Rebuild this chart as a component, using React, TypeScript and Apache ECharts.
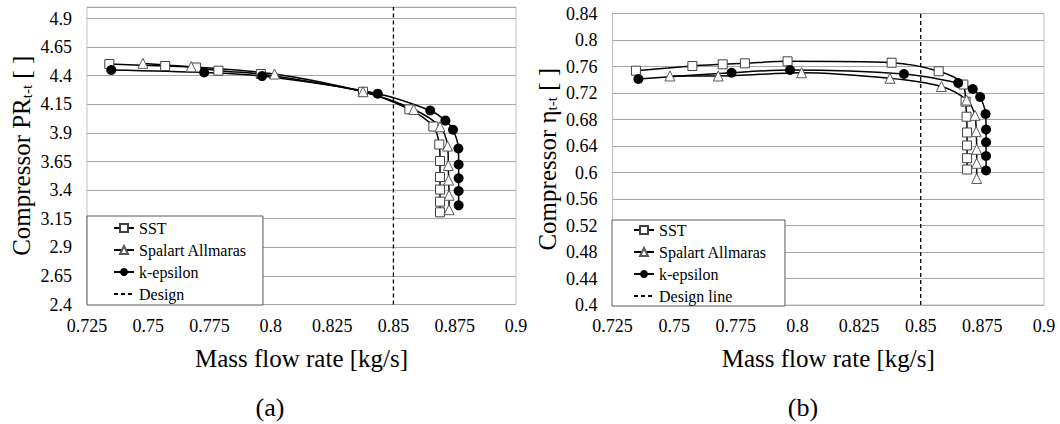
import React, { useEffect, useRef } from 'react';
import * as echarts from 'echarts';

const FONT = 'Liberation Serif';

// Axes
const X_MIN = 0.725;
const X_MAX = 0.9;
const X_STEP = 0.025;
const PR_MIN = 2.4;
const PR_MAX = 5.0;
const PR_STEP = 0.25;
const ETA_MIN = 0.4;
const ETA_MAX = 0.84;
const ETA_STEP = 0.04;
const DESIGN_FLOW = 0.85;

const LEGEND_A = ['SST', 'Spalart Allmaras', 'k-epsilon', 'Design'];
const LEGEND_B = ['SST', 'Spalart Allmaras', 'k-epsilon', 'Design line'];

// (a) Compressor total-to-total pressure ratio
const sstFlowA = [0.7341, 0.7569, 0.7695, 0.7786, 0.7959, 0.8376, 0.8565, 0.8663, 0.8687, 0.869, 0.869, 0.869, 0.869, 0.869];
const sstPR = [4.502, 4.485, 4.472, 4.444, 4.415, 4.26, 4.106, 3.956, 3.799, 3.654, 3.514, 3.405, 3.299, 3.206];

const saFlowA = [0.7478, 0.7675, 0.8015, 0.8376, 0.8583, 0.869, 0.8721, 0.8724, 0.8725, 0.8727, 0.8727];
const saPR = [4.508, 4.479, 4.415, 4.26, 4.105, 3.954, 3.785, 3.615, 3.488, 3.355, 3.229];

const keFlowA = [0.7349, 0.7728, 0.7964, 0.8436, 0.865, 0.8712, 0.8743, 0.8765, 0.8766, 0.8766, 0.8766, 0.8766];
const kePR = [4.45, 4.428, 4.397, 4.243, 4.096, 4.008, 3.928, 3.764, 3.624, 3.504, 3.392, 3.267];

// (b) Compressor total-to-total efficiency
const sstFlowB = [0.7345, 0.7574, 0.7697, 0.7787, 0.796, 0.8382, 0.8573, 0.8673, 0.8682, 0.8686, 0.8688, 0.8688, 0.8688, 0.8688];
const sstEta = [0.7537, 0.7608, 0.7633, 0.7648, 0.7678, 0.7657, 0.7528, 0.7328, 0.7069, 0.6842, 0.6604, 0.6408, 0.6216, 0.6045];

const saFlowB = [0.7483, 0.7679, 0.8017, 0.8375, 0.8584, 0.8686, 0.872, 0.8725, 0.8727, 0.8727, 0.8727];
const saEta = [0.7457, 0.7457, 0.7506, 0.7422, 0.7298, 0.7094, 0.6863, 0.6616, 0.635, 0.6139, 0.591];

const keFlowB = [0.7355, 0.7733, 0.797, 0.8432, 0.8652, 0.8711, 0.8741, 0.8763, 0.8765, 0.8765, 0.8765, 0.8765];
const keEta = [0.7411, 0.7506, 0.7547, 0.7487, 0.7351, 0.726, 0.714, 0.6883, 0.6649, 0.6457, 0.6249, 0.603];

const zip = (xs: number[], ys: number[]) => xs.map((x, i) => [x, ys[i]]);
const fmt = (v: number) => String(+v.toFixed(4));

const LINE = { color: '#000', width: 1.5 };

function modelSeries(idx: number, sst: number[][], sa: number[][], ke: number[][], yMin: number, yMax: number, designName: string) {
  const common = { xAxisIndex: idx, yAxisIndex: idx, smooth: 0.3, showSymbol: true };
  return [
    {
      ...common,
      type: 'line',
      name: 'SST',
      data: sst,
      symbol: 'rect',
      symbolSize: 9,
      lineStyle: LINE,
      itemStyle: { color: '#fff', borderColor: '#404040', borderWidth: 1 },
    },
    {
      ...common,
      type: 'line',
      name: 'Spalart Allmaras',
      data: sa,
      symbol: 'triangle',
      symbolSize: 10,
      lineStyle: LINE,
      itemStyle: { color: '#fff', borderColor: '#595959', borderWidth: 1 },
    },
    {
      ...common,
      type: 'line',
      name: 'k-epsilon',
      data: ke,
      symbol: 'circle',
      symbolSize: 10,
      lineStyle: LINE,
      itemStyle: { color: '#000', borderColor: '#000', borderWidth: 0 },
    },
    {
      xAxisIndex: idx,
      yAxisIndex: idx,
      type: 'line',
      name: designName,
      data: [[DESIGN_FLOW, yMin], [DESIGN_FLOW, yMax]],
      symbol: 'circle',
      showSymbol: false,
      symbolSize: 0,
      lineStyle: { color: '#000', width: 1.3, type: [4, 3] },
      itemStyle: { color: 'rgba(0,0,0,0)', borderWidth: 0 },
      z: 1,
    },
  ];
}

const tickRich = { v: { fontFamily: FONT, fontSize: 18, color: '#000' } };
const tickFmt = (v: number) => `{v|${fmt(v)}}`;

const xAxisBase = (idx: number) => ({
  type: 'value',
  gridIndex: idx,
  min: X_MIN,
  max: X_MAX,
  interval: X_STEP,
  axisLine: { show: false },
  axisTick: { show: false },
  splitLine: { show: false },
  axisLabel: { fontFamily: FONT, fontSize: 18, color: '#000', margin: 12, formatter: tickFmt, rich: tickRich },
  name: '{t|Mass flow rate [kg/s]}',
  nameLocation: 'middle',
  nameGap: 41,
  nameTextStyle: { fontFamily: FONT, fontSize: 25, color: '#000', rich: { t: { fontFamily: FONT, fontSize: 25, color: '#000' } } },
});

const yName = (sym: string) => `{m|Compressor ${sym}}{s|t-t}{m| [ ]}`;
const yRich = {
  m: { fontFamily: FONT, fontSize: 25, color: '#000' },
  s: { fontFamily: FONT, fontSize: 15, color: '#000', verticalAlign: 'bottom', padding: [10, 0, 0, 0] },
};

const legendBase = {
  orient: 'vertical',
  backgroundColor: '#fff',
  borderColor: '#595959',
  borderWidth: 1,
  itemWidth: 20,
  itemHeight: 10,
  itemGap: 6,
  selectedMode: false,
  textStyle: { fontFamily: FONT, fontSize: 16, color: '#000', lineHeight: 16 },
};

export default function App() {
  const ref = useRef<HTMLDivElement>(null);
  useEffect(() => {
    if (!ref.current) return;
    const chart = echarts.init(ref.current, null, { renderer: 'svg' });
    const option = {
      animation: false,
      backgroundColor: '#fff',
      textStyle: { fontFamily: FONT },
      grid: [
        { left: 87, top: 7.1, width: 429, height: 297.4, show: true, borderColor: '#bfbfbf', borderWidth: 1 },
        { left: 612.5, top: 13.5, width: 431.5, height: 291.5, show: true, borderColor: '#bfbfbf', borderWidth: 1 },
      ],
      xAxis: [xAxisBase(0), xAxisBase(1)],
      yAxis: [
        {
          type: 'value',
          gridIndex: 0,
          min: PR_MIN,
          max: PR_MAX,
          interval: PR_STEP,
          axisLine: { show: false },
          axisTick: { show: false },
          splitLine: { lineStyle: { color: '#a6a6a6', width: 1 } },
          axisLabel: {
            fontFamily: FONT,
            fontSize: 18,
            color: '#000',
            margin: 15,
            showMaxLabel: false,
            rich: tickRich,
            formatter: (v: number) => (v > PR_MAX - 0.05 ? '' : tickFmt(v)),
          },
          name: yName('PR'),
          nameLocation: 'middle',
          nameRotate: 90,
          nameGap: 53,
          nameTextStyle: { fontFamily: FONT, rich: yRich },
        },
        {
          type: 'value',
          gridIndex: 1,
          min: ETA_MIN,
          max: ETA_MAX,
          interval: ETA_STEP,
          axisLine: { show: false },
          axisTick: { show: false },
          splitLine: { lineStyle: { color: '#a6a6a6', width: 1 } },
          axisLabel: { fontFamily: FONT, fontSize: 18, color: '#000', margin: 15, formatter: tickFmt, rich: tickRich },
          name: yName('η'),
          nameLocation: 'middle',
          nameRotate: 90,
          nameGap: 53,
          nameTextStyle: { fontFamily: FONT, rich: yRich },
        },
      ],
      legend: [
        { ...legendBase, data: LEGEND_A, left: 87, top: 216, padding: [4, 16, 3, 26] },
        { ...legendBase, data: LEGEND_B, left: 612, top: 220, padding: [2, 18, 2, 21] },
      ],
      graphic: [
        { type: 'text', x: 270, y: 407, style: { text: '(a)', font: `26px ${FONT}`, fill: '#000', align: 'center', verticalAlign: 'middle' } },
        { type: 'text', x: 803, y: 407, style: { text: '(b)', font: `26px ${FONT}`, fill: '#000', align: 'center', verticalAlign: 'middle' } },
      ],
      series: [
        ...modelSeries(0, zip(sstFlowA, sstPR), zip(saFlowA, saPR), zip(keFlowA, kePR), PR_MIN, PR_MAX, 'Design'),
        ...modelSeries(1, zip(sstFlowB, sstEta), zip(saFlowB, saEta), zip(keFlowB, keEta), ETA_MIN, ETA_MAX, 'Design line'),
      ],
    };
    chart.setOption(option as any);
    return () => chart.dispose();
  }, []);
  return <div ref={ref} style={{ position: 'absolute', left: 0, top: 0, width: 1060, height: 424 }} />;
}
